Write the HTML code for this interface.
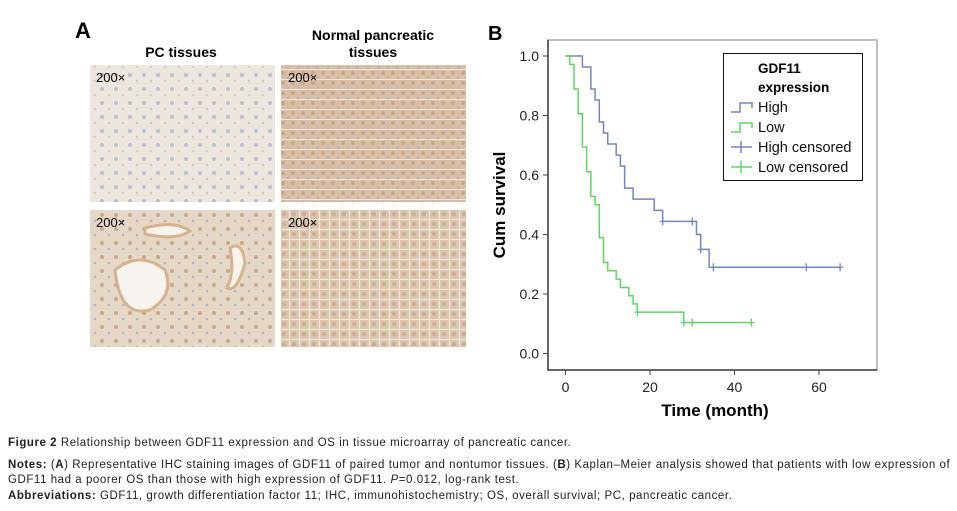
<!DOCTYPE html>
<html><head><meta charset="utf-8"><style>
body{margin:0;background:#fff;width:957px;height:511px;overflow:hidden;position:relative;font-family:"Liberation Sans",sans-serif}
.cap{position:absolute;left:8px;font-family:"Liberation Sans Narrow","Liberation Sans",sans-serif;font-size:11.5px;letter-spacing:0.55px;color:#222;white-space:nowrap}
.cap b{font-weight:bold}
</style></head><body>
<svg width="957" height="430" style="position:absolute;left:0;top:0">
<defs>
<pattern id="p1" width="14" height="14" patternUnits="userSpaceOnUse"><rect width="14" height="14" fill="#ede6dc"/><circle cx="4" cy="5" r="2" fill="#b3bfd4"/><circle cx="11" cy="11" r="1.3" fill="#dccbb7"/></pattern>
<pattern id="p2" width="10" height="10" patternUnits="userSpaceOnUse"><rect width="10" height="10" fill="#d8bea3"/><circle cx="3" cy="3" r="2" fill="#c9a887"/><circle cx="8" cy="8" r="1.2" fill="#b4b0c2"/><rect x="0" y="9" width="10" height="1" fill="#efe6dd"/></pattern>
<pattern id="p3" width="14" height="14" patternUnits="userSpaceOnUse"><rect width="14" height="14" fill="#e6d8c6"/><circle cx="4" cy="5" r="2" fill="#c9a888"/><circle cx="11" cy="11" r="1.3" fill="#aab4cc"/></pattern>
<pattern id="p4" width="10" height="10" patternUnits="userSpaceOnUse"><rect width="10" height="10" fill="#dcc5ad"/><circle cx="4" cy="4" r="2.2" fill="#cfae8f"/><rect x="0" y="9" width="10" height="1" fill="#f2ebe3"/><rect x="9" y="0" width="1" height="10" fill="#f2ebe3"/></pattern>
</defs>
<text x="75" y="38" font-size="22" font-weight="bold">A</text>
<text x="181" y="57" font-size="14" font-weight="bold" text-anchor="middle">PC tissues</text>
<text x="373" y="40" font-size="14" font-weight="bold" text-anchor="middle">Normal pancreatic</text>
<text x="373" y="57" font-size="14" font-weight="bold" text-anchor="middle">tissues</text>
<rect x="90" y="65" width="185" height="137" fill="url(#p1)"/>
<rect x="281" y="65" width="185" height="137" fill="url(#p2)"/>
<rect x="90" y="210" width="185" height="137" fill="url(#p3)"/>
<rect x="281" y="210" width="185" height="137" fill="url(#p4)"/>
<path d="M115 270 q25 -20 50 0 q10 25 -15 40 q-30 8 -35 -40z M145 228 q30 -8 45 3 q-15 10 -45 3z M230 248 q12 -8 15 15 q-8 30 -18 25 q8 -15 3 -40z" fill="#f7f3ee" stroke="#d6b38c" stroke-width="3"/>
<text x="96" y="82" font-size="13">200×</text>
<text x="288" y="82" font-size="13">200×</text>
<text x="96" y="227" font-size="13">200×</text>
<text x="288" y="227" font-size="13">200×</text>
<text x="488" y="40" font-size="20" font-weight="bold">B</text>
<g id="chart"></g>
</svg>
<div class="cap" style="top:437px"><b>Figure 2</b> Relationship between GDF11 expression and OS in tissue microarray of pancreatic cancer.</div>
<div class="cap" style="top:459px"><b>Notes:</b> (<b>A</b>) Representative IHC staining images of GDF11 of paired tumor and nontumor tissues. (<b>B</b>) Kaplan–Meier analysis showed that patients with low expression of</div>
<div class="cap" style="top:474px">GDF11 had a poorer OS than those with high expression of GDF11. <i>P</i>=0.012, log-rank test.</div>
<div class="cap" style="top:490px"><b>Abbreviations:</b> GDF11, growth differentiation factor 11; IHC, immunohistochemistry; OS, overall survival; PC, pancreatic cancer.</div>
<script>
const xTicks=[0,20,40,60];
const yTicks=[0.0,0.2,0.4,0.6,0.8,1.0];
const highTimes=[0,4,6,7,8,9,10,12,13,14,16,21,23,31,32,34,65];
const highSurv=[1.0,0.963,0.889,0.852,0.778,0.741,0.704,0.667,0.63,0.556,0.519,0.481,0.444,0.40,0.35,0.29,0.29];
const highCensor=[23,30,32,35,57,65];
const lowTimes=[0,1,2,3,4,5,6,7,8,9,10,12,13,15,16,17,28,44];
const lowSurv=[1.0,0.972,0.889,0.806,0.694,0.611,0.528,0.5,0.389,0.306,0.278,0.25,0.222,0.194,0.167,0.139,0.104,0.104];
const lowCensor=[17,28,30,44];
const NS='http://www.w3.org/2000/svg';
const g=document.getElementById('chart');
const X=t=>565.5+t*(819-565.5)/60;
const Y=v=>353.5-v*(353.5-56);
function el(tag,a){const e=document.createElementNS(NS,tag);for(const k in a)e.setAttribute(k,a[k]);g.appendChild(e);return e;}
let f=el('rect',{x:548,y:40,width:329,height:330,fill:'none',stroke:'#aaa','stroke-width':1.5});

let ax=el('path',{d:'M548 40V370H877',fill:'none',stroke:'#444','stroke-width':1.5});

xTicks.forEach(t=>{el('line',{x1:X(t),x2:X(t),y1:370,y2:375,stroke:'#444'});
let tx=el('text',{x:X(t),y:392,'font-size':14,'text-anchor':'middle',fill:'#222'});tx.textContent=t;
});
yTicks.forEach(v=>{el('line',{x1:543,x2:548,y1:Y(v),y2:Y(v),stroke:'#444'});
let tx=el('text',{x:539,y:Y(v)+5,'font-size':14,'text-anchor':'end',fill:'#222'});tx.textContent=v.toFixed(1);
});
let xt=el('text',{x:715,y:416,'font-size':17,'font-weight':'bold','text-anchor':'middle'});xt.textContent='Time (month)';

let yt=el('text',{x:0,y:0,'font-size':17,'font-weight':'bold','text-anchor':'middle',transform:'translate(505,205) rotate(-90)'});yt.textContent='Cum survival';

function step(times,surv){let d='M'+X(times[0])+' '+Y(surv[0]);for(let i=1;i<times.length;i++){d+='H'+X(times[i])+'V'+Y(surv[i]);}return d;}
function survAt(times,surv,t){let s=surv[0];for(let i=0;i<times.length;i++)if(times[i]<=t)s=surv[i];return s;}
function series(times,surv,cens,col,name){
let p=el('path',{d:step(times,surv),fill:'none',stroke:col,'stroke-width':1.5});

cens.forEach(t=>{const y=Y(survAt(times,surv,t));let c=el('path',{d:`M${X(t)} ${y-4}V${y+4}M${X(t)-3} ${y}H${X(t)+3}`,stroke:col,'stroke-width':1.3});
});}
series(highTimes,highSurv,highCensor,'#7285c9','high');
series(lowTimes,lowSurv,lowCensor,'#5fd862','low');
let lg=el('rect',{x:723.5,y:53.5,width:139,height:127,fill:'#fff',stroke:'#111','stroke-width':1});

let l1=el('text',{x:758,y:73,'font-size':13.5,'font-weight':'bold'});l1.textContent='GDF11';
let l2=el('text',{x:758,y:92,'font-size':13.5,'font-weight':'bold'});l2.textContent='expression';
const entries=[['High','#7285c9',0],['Low','#5fd862',0],['High censored','#7285c9',1],['Low censored','#5fd862',1]];
entries.forEach((e,i)=>{const y=107+i*20;
if(!e[2])el('path',{d:`M731 ${y+5}H740V${y-4}H752V${y+1}`,fill:'none',stroke:e[1],'stroke-width':1.5});
else el('path',{d:`M731 ${y}H752M741 ${y-6}V${y+6}`,fill:'none',stroke:e[1],'stroke-width':1.5});
let t=el('text',{x:758,y:y+5,'font-size':14.5,fill:'#111'});t.textContent=e[0];
});
</script>
</body></html>
